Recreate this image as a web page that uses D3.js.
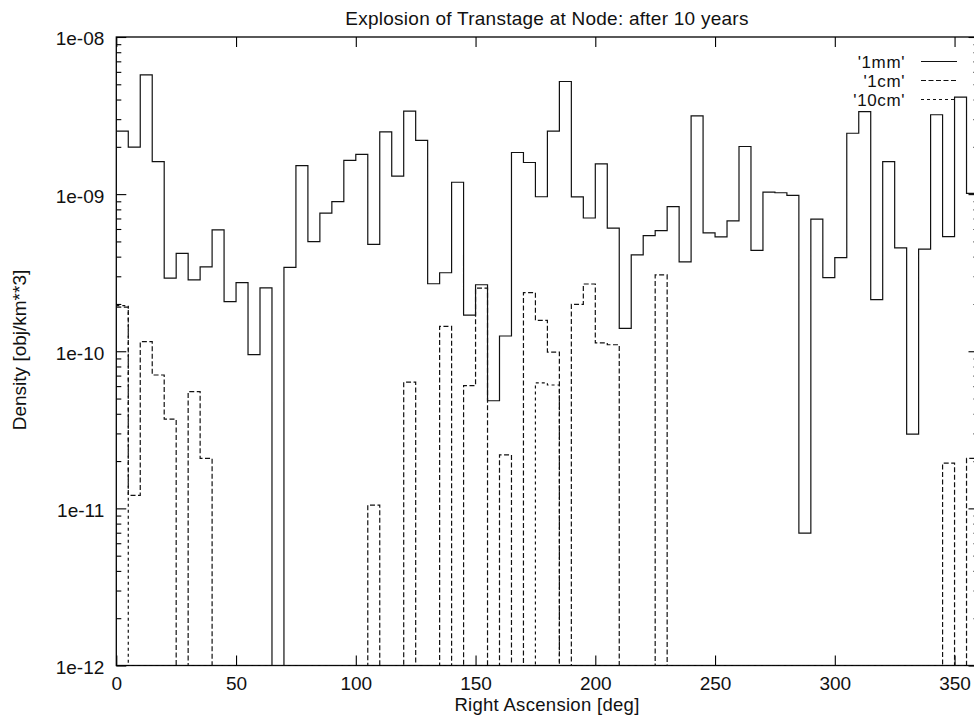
<!DOCTYPE html>
<html>
<head>
<meta charset="utf-8">
<script src="https://cdn.jsdelivr.net/npm/d3@7"></script>
<style>
  body { margin: 0; background: #fff; }
  text { font-family: "Liberation Sans", Arial, Helvetica, sans-serif; fill: #111; }
</style>
</head>
<body>
<div id="chart"></div>
<script>
// Right ascension bins, 5 deg wide (left edge of each bin)
const raBins = d3.range(0, 360, 5);

// Density per bin [obj/km**3], 0 = empty bin
const density1mm = [
  2.52e-9, 1.99e-9, 5.74e-9, 1.61e-9, 2.92e-10, 4.20e-10, 2.85e-10, 3.44e-10, 5.93e-10, 2.07e-10,
  2.73e-10, 9.53e-11, 2.53e-10, 0, 3.42e-10, 1.52e-9, 4.99e-10, 7.57e-10, 8.96e-10, 1.64e-9,
  1.79e-9, 4.79e-10, 2.49e-9, 1.30e-9, 3.37e-9, 2.20e-9, 2.69e-10, 3.16e-10, 1.19e-9, 1.70e-10,
  2.65e-10, 4.84e-11, 1.25e-10, 1.84e-9, 1.59e-9, 9.62e-10, 2.52e-9, 5.21e-9, 9.60e-10, 7.05e-10,
  1.56e-9, 6.08e-10, 1.40e-10, 4.11e-10, 5.44e-10, 5.86e-10, 8.32e-10, 3.71e-10, 3.15e-9, 5.66e-10,
  5.34e-10, 6.75e-10, 2.01e-9, 4.38e-10, 1.03e-9, 1.02e-9, 9.83e-10, 6.95e-12, 6.93e-10, 2.94e-10,
  3.94e-10, 2.44e-9, 3.35e-9, 2.13e-10, 1.61e-9, 4.55e-10, 2.97e-11, 4.47e-10, 3.20e-9, 5.37e-10,
  4.14e-9, 1.01e-9
];
const density1cm = [
  1.91e-10, 1.21e-11, 1.15e-10, 7.06e-11, 3.70e-11, 0, 5.53e-11, 2.08e-11, 0, 0,
  0, 0, 0, 0, 0, 0, 0, 0, 0, 0,
  0, 1.05e-11, 0, 0, 6.37e-11, 0, 0, 1.44e-10, 0, 6.04e-11,
  2.52e-10, 0, 2.19e-11, 0, 2.36e-10, 1.57e-10, 9.88e-11, 0, 1.99e-10, 2.68e-10,
  1.13e-10, 1.10e-10, 0, 0, 0, 3.06e-10, 0, 0, 0, 0,
  0, 0, 0, 0, 0, 0, 0, 0, 0, 0,
  0, 0, 0, 0, 0, 0, 0, 0, 0, 1.94e-11,
  0, 2.08e-11
];
const density10cm = [
  1.95e-10, 0, 0, 0, 0, 0, 0, 0, 0, 0,
  0, 0, 0, 0, 0, 0, 0, 0, 0, 0,
  0, 0, 0, 0, 0, 0, 0, 0, 0, 0,
  0, 0, 0, 0, 0, 6.3e-11, 6.1e-11, 0, 0, 0,
  0, 0, 0, 0, 0, 0, 0, 0, 0, 0,
  0, 0, 0, 0, 0, 0, 0, 0, 0, 0,
  0, 0, 0, 0, 0, 0, 0, 0, 0, 0,
  0, 0
];

const seriesNames = ["'1mm'", "'1cm'", "'10cm'"];
const xTickValues = [0, 50, 100, 150, 200, 250, 300, 350];
const yTickValues = [1e-12, 1e-11, 1e-10, 1e-9, 1e-8];
const yTickLabels = ["1e-12", "1e-11", "1e-10", "1e-09", "1e-08"];

const width = 974, height = 719;
const plot = { left: 116.3, right: 978.5, top: 37, bottom: 665.5 };

const svg = d3.select("#chart").append("svg")
    .attr("width", width)
    .attr("height", height);

const x = d3.scaleLinear().domain([0, 360]).range([plot.left, plot.right]);
const y = d3.scaleLog().domain([1e-12, 1e-8]).range([plot.bottom, plot.top]);

svg.append("clipPath").attr("id", "plot-clip")
  .append("rect")
    .attr("x", plot.left).attr("y", plot.top)
    .attr("width", plot.right - plot.left).attr("height", plot.bottom - plot.top);

// minor log ticks 2..9 per decade
const minorTicks = [];
yTickValues.slice(0, -1).forEach(d => {
    for (let k = 2; k <= 9; k++) minorTicks.push(d * k);
});

function styleAxis(g) {
    g.select(".domain").remove();
    g.selectAll("line").attr("stroke", "#000").attr("stroke-width", 1.1);
    g.selectAll("text").attr("font-size", "19px").attr("fill", "#111");
}

// left axis
svg.append("g")
    .attr("transform", `translate(${plot.left},0)`)
    .call(d3.axisLeft(y).tickValues(yTickValues).tickSize(-10).tickPadding(12)
        .tickFormat((d, i) => yTickLabels[i]))
    .call(styleAxis)
    .selectAll("text").attr("dy", "0.42em");
svg.append("g")
    .attr("transform", `translate(${plot.left},0)`)
    .call(d3.axisLeft(y).tickValues(minorTicks).tickSize(-5).tickFormat(""))
    .call(styleAxis);

// right axis (mirror)
svg.append("g")
    .attr("transform", `translate(${plot.right},0)`)
    .call(d3.axisRight(y).tickValues(yTickValues).tickSize(-10).tickFormat(""))
    .call(styleAxis);
svg.append("g")
    .attr("transform", `translate(${plot.right},0)`)
    .call(d3.axisRight(y).tickValues(minorTicks).tickSize(-5).tickFormat(""))
    .call(styleAxis);

// bottom + top axis
svg.append("g")
    .attr("transform", `translate(0,${plot.bottom})`)
    .call(d3.axisBottom(x).tickValues(xTickValues).tickSize(-10).tickPadding(11.5))
    .call(styleAxis);
svg.append("g")
    .attr("transform", `translate(0,${plot.top})`)
    .call(d3.axisTop(x).tickValues(xTickValues).tickSize(-10).tickFormat(""))
    .call(styleAxis);

// border
svg.append("rect")
    .attr("x", plot.left).attr("y", plot.top)
    .attr("width", plot.right - plot.left).attr("height", plot.bottom - plot.top)
    .attr("fill", "none").attr("stroke", "#000").attr("stroke-width", 1.3);

// step lines
const line = d3.line()
    .x(d => x(d[0]))
    .y(d => d[1] > 0 ? y(d[1]) : plot.bottom)
    .curve(d3.curveStepAfter);

const series = [
    { name: seriesNames[0], values: density1mm, dash: null },
    { name: seriesNames[1], values: density1cm, dash: "5,2.5" },
    { name: seriesNames[2], values: density10cm, dash: "3,3" }
];

series.forEach(s => {
    const pts = raBins.map((ra, i) => [ra, s.values[i]]);
    pts.push([360, s.values[s.values.length - 1]]);
    svg.append("path")
        .datum(pts)
        .attr("clip-path", "url(#plot-clip)")
        .attr("fill", "none")
        .attr("stroke", "#111")
        .attr("stroke-width", 1.2)
        .attr("stroke-dasharray", s.dash)
        .attr("d", line);
});

// legend
const legend = svg.append("g");
series.forEach((s, i) => {
    const ly = 61.5 + i * 19;
    legend.append("text")
        .attr("x", 905).attr("y", ly + 6)
        .attr("text-anchor", "end")
        .attr("font-size", "17px")
        .attr("letter-spacing", "0.6px")
        .text(s.name);
    legend.append("line")
        .attr("x1", 921).attr("x2", 957)
        .attr("y1", ly).attr("y2", ly)
        .attr("stroke", "#111").attr("stroke-width", 1.2)
        .attr("stroke-dasharray", s.dash);
});

// title and axis labels
svg.append("text")
    .attr("x", 547).attr("y", 24.5)
    .attr("text-anchor", "middle")
    .attr("font-size", "19px")
    .attr("letter-spacing", "0.25px")
    .text("Explosion of Transtage at Node: after 10 years");

svg.append("text")
    .attr("x", 547).attr("y", 711)
    .attr("text-anchor", "middle")
    .attr("font-size", "18.5px")
    .attr("letter-spacing", "0.3px")
    .text("Right Ascension [deg]");

svg.append("text")
    .attr("transform", "translate(25.5,350) rotate(-90)")
    .attr("text-anchor", "middle")
    .attr("font-size", "19px")
    .text("Density [obj/km**3]");
</script>
</body>
</html>
